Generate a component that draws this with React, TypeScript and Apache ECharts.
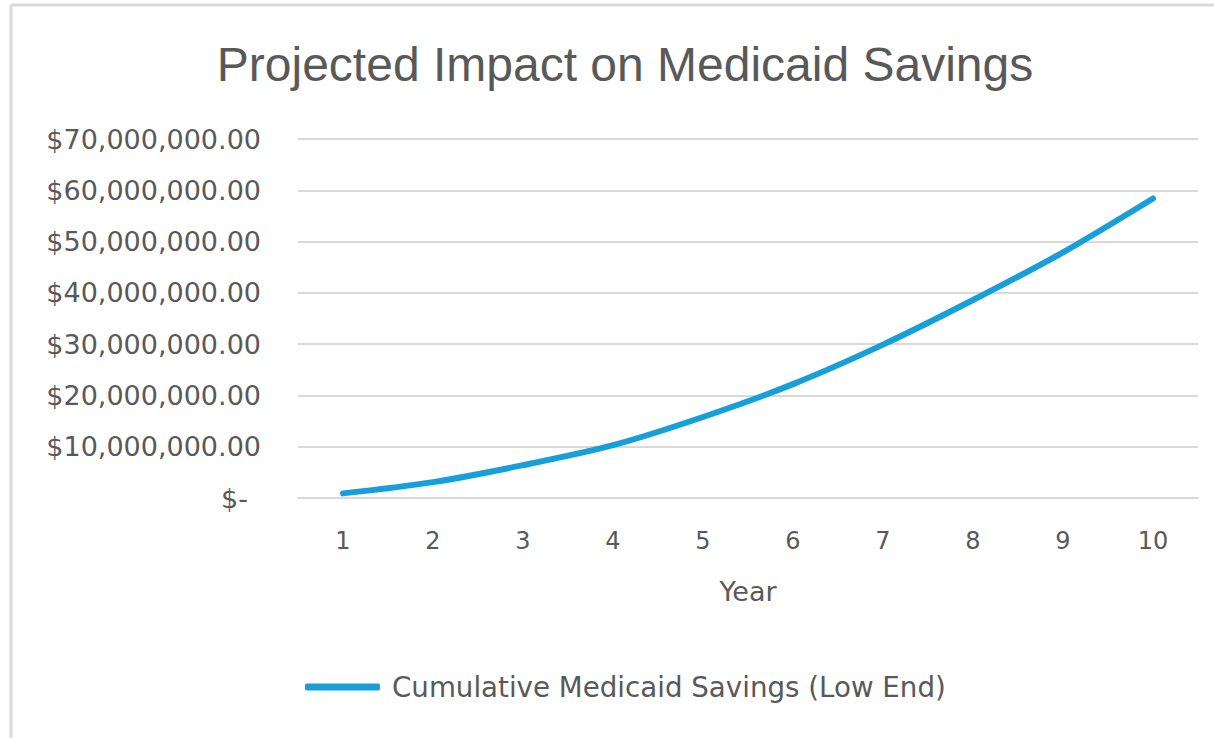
import React, { useEffect, useRef } from "react";
import * as echarts from "echarts";

const years = ["1", "2", "3", "4", "5", "6", "7", "8", "9", "10"];
const savingsLowEnd = [
  900000, 3100000, 6400000, 10300000, 15800000, 22200000, 29900000, 38600000,
  47900000, 58400000,
];
const titleText = "Projected Impact on Medicaid Savings";
const seriesName = "Cumulative Medicaid Savings (Low End)";
const xAxisName = "Year";

const AXIS_FONT = "'DejaVu Sans', 'Liberation Sans', sans-serif";
const GREY = "#595959";

function fmtMoney(v: number): string {
  if (v === 0) return "{z|$-}";
  return "$" + v.toLocaleString("en-US", { minimumFractionDigits: 2, maximumFractionDigits: 2 });
}

export default function App() {
  const ref = useRef<HTMLDivElement>(null);
  useEffect(() => {
    if (!ref.current) return;
    const chart = echarts.init(ref.current, undefined, { renderer: "svg" });
    chart.setOption({
      animation: false,
      backgroundColor: "#ffffff",
      title: {
        text: titleText,
        left: 620,
        textAlign: "center",
        top: 35,
        textStyle: {
          fontFamily: "'Liberation Sans', Arial, sans-serif",
          fontWeight: "normal",
          fontSize: 48,
          color: GREY,
        },
      },
      legend: {
        bottom: 32,
        left: 300,
        itemWidth: 75,
        itemHeight: 7,
        icon: "roundRect",
        data: [seriesName],
        textStyle: {
          fontFamily: AXIS_FONT,
          fontSize: 27.7,
          color: GREY,
          padding: [0, 0, 0, 7],
        },
      },
      grid: { left: 298, right: 16, top: 139, bottom: 240, containLabel: false },
      xAxis: {
        type: "category",
        data: years,
        boundaryGap: true,
        name: xAxisName,
        nameLocation: "middle",
        nameGap: 80,
        nameTextStyle: { fontFamily: AXIS_FONT, fontSize: 27, color: GREY },
        axisLine: { show: true, lineStyle: { color: "#d9d9d9", width: 2 } },
        axisTick: { show: false },
        axisLabel: {
          margin: 31,
          fontFamily: AXIS_FONT,
          fontSize: 24,
          color: GREY,
        },
      },
      yAxis: {
        type: "value",
        min: 0,
        max: 70000000,
        interval: 10000000,
        axisLine: { show: false },
        axisTick: { show: false },
        splitLine: { lineStyle: { color: "#d9d9d9", width: 2 } },
        axisLabel: {
          margin: 37,
          fontFamily: AXIS_FONT,
          fontSize: 27,
          color: GREY,
          formatter: fmtMoney,
          rich: {
            z: {
              fontFamily: AXIS_FONT,
              fontSize: 27,
              color: GREY,
              padding: [0, 13, 0, 0],
            },
          },
        },
      },
      series: [
        {
          name: seriesName,
          type: "line",
          data: savingsLowEnd,
          smooth: 0.3,
          showSymbol: false,
          symbol: "none",
          lineStyle: { color: "#169FD8", width: 6, cap: "round" },
          itemStyle: { color: "#169FD8" },
        },
      ],
      graphic: [
        { type: "line", shape: { x1: 11, y1: 5, x2: 1214, y2: 5 }, style: { stroke: "#d9d9d9", lineWidth: 3 } },
        { type: "line", shape: { x1: 11, y1: 5, x2: 11, y2: 738 }, style: { stroke: "#d9d9d9", lineWidth: 3 } },
      ],
    });
    return () => chart.dispose();
  }, []);
  return (
    <div
      ref={ref}
      style={{ position: "fixed", left: 0, top: 0, width: 1214, height: 738 }}
    />
  );
}
